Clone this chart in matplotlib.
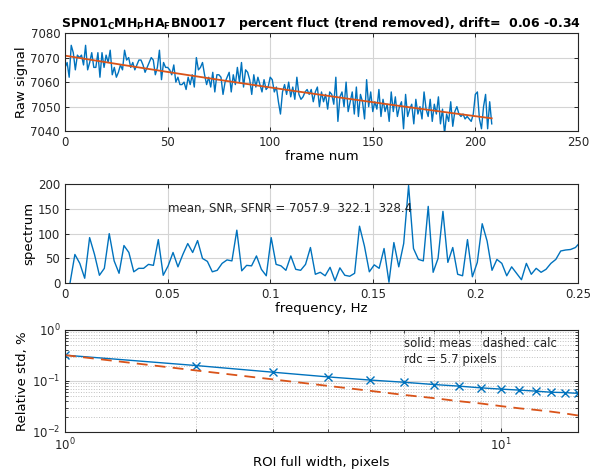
import numpy as np
import matplotlib
matplotlib.use("Agg")
from matplotlib import pyplot as plt
from matplotlib.ticker import LogLocator, NullFormatter

# raw signal per frame
raw_signal = [
    7066, 7068, 7062, 7075, 7072, 7065, 7071, 7070, 7071, 7067,
    7075, 7065, 7068, 7072, 7066, 7066, 7072, 7062, 7072, 7066,
    7071, 7068, 7073, 7063, 7066, 7062, 7064, 7067, 7065, 7073,
    7069, 7070, 7066, 7068, 7065, 7067, 7069, 7069, 7067, 7064,
    7066, 7068, 7070, 7069, 7063, 7066, 7073, 7061, 7068, 7066,
    7066, 7065, 7063, 7067, 7060, 7062, 7059, 7059, 7060, 7057,
    7062, 7059, 7063, 7058, 7070, 7065, 7066, 7068, 7063, 7059,
    7062, 7058, 7064, 7056, 7063, 7063, 7062, 7055, 7060, 7062,
    7064, 7056, 7063, 7059, 7066, 7060, 7068, 7058, 7065, 7064,
    7061, 7055, 7063, 7058, 7062, 7059, 7056, 7061, 7057, 7058,
    7062, 7061, 7056, 7058, 7052, 7047, 7056, 7059, 7055, 7060,
    7054, 7058, 7053, 7062, 7055, 7053, 7054, 7056, 7057, 7055,
    7057, 7052, 7056, 7058, 7050, 7056, 7052, 7055, 7049, 7056,
    7055, 7051, 7062, 7044, 7054, 7056, 7050, 7060, 7048, 7052,
    7056, 7047, 7058, 7046, 7055, 7052, 7045, 7061, 7050, 7056,
    7048, 7052, 7049, 7057, 7046, 7053, 7048, 7051, 7044, 7056,
    7048, 7054, 7046, 7050, 7052, 7041, 7055, 7046, 7049, 7051,
    7043, 7053, 7047, 7050, 7045, 7056, 7049, 7046, 7053, 7044,
    7051, 7047, 7054, 7043, 7049, 7039, 7047, 7044, 7052, 7042,
    7048, 7050, 7047, 7046, 7047, 7045, 7046, 7045, 7044, 7047,
    7055, 7056, 7045, 7041, 7050, 7055, 7041, 7052, 7043,
]

# spectrum of the detrended signal
spectrum = [
    0, 58, 40, 10, 92, 58, 16, 30, 100, 45,
    20, 76, 62, 23, 30, 30, 38, 36, 88, 16,
    35, 62, 33, 58, 80, 62, 86, 50, 44, 23,
    26, 40, 47, 45, 107, 25, 36, 35, 55, 28,
    15, 92, 38, 35, 26, 55, 28, 26, 38, 72,
    18, 22, 15, 32, 5, 31, 16, 14, 20, 115,
    75, 23, 37, 30, 70, 2, 82, 33, 80, 197,
    70, 48, 45, 155, 22, 50, 145, 42, 72, 18,
    15, 88, 13, 42, 120, 85, 26, 48, 40, 15,
    33, 20, 7, 40, 18, 30, 22, 28, 40, 48,
    65, 67, 68, 72, 83,
]

# Weisskoff plot
roi_width = [1, 2, 3, 4, 5, 6, 7, 8, 9, 10, 11, 12, 13, 14, 15]
std_meas = [0.32, 0.20, 0.148, 0.12, 0.104, 0.094, 0.085, 0.079, 0.073,
            0.069, 0.066, 0.063, 0.060, 0.059, 0.057]
std_calc = [0.32, 0.16, 0.107, 0.080, 0.064, 0.053, 0.046, 0.040, 0.036,
            0.032, 0.029, 0.027, 0.025, 0.023, 0.021]

blue = '#0072BD'
orange = '#D95319'
axcol = '#262626'

plt.rcParams['font.family'] = 'DejaVu Sans'
plt.rcParams['font.size'] = 8.5
plt.rcParams['axes.labelsize'] = 9.5
plt.rcParams['axes.edgecolor'] = axcol
plt.rcParams['xtick.color'] = axcol
plt.rcParams['ytick.color'] = axcol
plt.rcParams['xtick.direction'] = 'in'
plt.rcParams['ytick.direction'] = 'in'
plt.rcParams['xtick.top'] = True
plt.rcParams['ytick.right'] = True
plt.rcParams['axes.linewidth'] = 0.8


def style(ax):
    ax.grid(True, which='major', color='#d4d4d4', lw=0.8)
    ax.set_axisbelow(True)
    ax.tick_params(length=3, width=0.7, colors=axcol, labelcolor=axcol)


fig = plt.figure(figsize=(5.97, 4.72), dpi=100)

# top: raw signal
ax1 = fig.add_axes([0.109, 0.722, 0.859, 0.208])
frames = np.arange(len(raw_signal))
ax1.plot(frames, raw_signal, color=blue, lw=1.0)
fit = np.polyval(np.polyfit(frames, raw_signal, 2), frames)
ax1.plot(frames, fit, color=orange, lw=1.3)
ax1.set_xlim(0, 250)
ax1.set_ylim(7040, 7080)
ax1.set_yticks([7040, 7050, 7060, 7070, 7080])
ax1.set_xticks([0, 50, 100, 150, 200, 250])
ax1.set_xlabel('frame num', labelpad=1)
ax1.set_ylabel('Raw signal', labelpad=2)
style(ax1)
ax1.set_title(r'SPN01$_\mathbf{C}$MH$_\mathbf{P}$HA$_\mathbf{F}$BN0017   '
              'percent fluct (trend removed), drift=  0.06 -0.34',
              fontweight='bold', fontsize=9, pad=4)

# middle: spectrum
ax2 = fig.add_axes([0.109, 0.400, 0.859, 0.210])
freq = np.arange(1, len(spectrum) + 1) / 418.0
ax2.plot(freq, spectrum, color=blue, lw=1.0)
ax2.set_xlim(0, 0.25)
ax2.set_ylim(0, 200)
ax2.set_yticks([0, 50, 100, 150, 200])
ax2.set_xticks([0, 0.05, 0.1, 0.15, 0.2, 0.25])
ax2.set_xticklabels(['0', '0.05', '0.1', '0.15', '0.2', '0.25'])
ax2.set_xlabel('frequency, Hz', labelpad=1)
ax2.set_ylabel('spectrum', labelpad=2)
ax2.text(0.05, 150, 'mean, SNR, SFNR = 7057.9  322.1  328.4', va='center',
         ha='left', color='#222222')
style(ax2)

# bottom: relative std vs ROI width
ax3 = fig.add_axes([0.109, 0.085, 0.859, 0.216])
ax3.loglog(roi_width, std_meas, color=blue, lw=1.0, marker='x', ms=6, mew=1.0)
ax3.loglog(roi_width, std_calc, color=orange, lw=1.3, ls=(0, (6, 4)))
ax3.set_xlim(1, 15)
ax3.set_ylim(0.01, 1)
ax3.yaxis.set_major_locator(LogLocator(base=10, numticks=10))
ax3.yaxis.set_minor_locator(LogLocator(base=10, subs=np.arange(2, 10), numticks=10))
ax3.xaxis.set_minor_formatter(NullFormatter())
ax3.set_xlabel('ROI full width, pixels', labelpad=2)
ax3.set_ylabel('Relative std, %', labelpad=2)
style(ax3)
ax3.grid(True, which='minor', color='#c0c0c0', lw=0.7, ls=':')
ax3.text(6.0, 0.53, 'solid: meas   dashed: calc', va='center', ha='left',
         color='#222222')
ax3.text(6.0, 0.26, 'rdc = 5.7 pixels', va='center', ha='left', color='#222222')

fig.savefig('out.png', dpi=100)
